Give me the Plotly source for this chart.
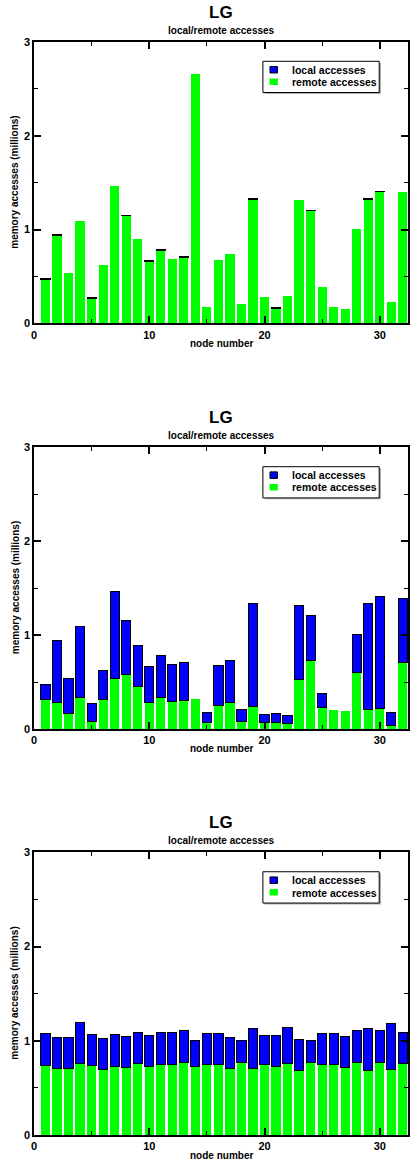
import plotly.graph_objects as go

nodes = list(range(1, 33))

# Panel 1
remote1 = [0.470, 0.933, 0.539, 1.092, 0.265, 0.624, 1.468, 1.148, 0.897, 0.659,
           0.776, 0.688, 0.705, 2.662, 0.177, 0.677, 0.738, 0.206, 1.325, 0.284,
           0.159, 0.294, 1.319, 1.201, 0.387, 0.177, 0.156, 1.011, 1.318, 1.403,
           0.230, 1.397]
local1 = [0.006, 0.010, None, None, 0.008, None, None, 0.008, None, 0.008,
          0.008, None, 0.008, None, None, None, None, None, 0.008, None,
          0.008, None, None, 0.008, None, None, None, None, 0.015, 0.008,
          None, None]

# Panel 2
remote2 = [0.312, 0.284, 0.167, 0.333, 0.082, 0.316, 0.535, 0.578, 0.450, 0.284,
           0.337, 0.294, 0.305, 0.323, 0.067, 0.255, 0.277, 0.078, 0.238, 0.067,
           0.067, 0.060, 0.532, 0.730, 0.230, 0.206, 0.191, 0.606, 0.202, 0.216,
           0.032, 0.709]
local2 = [0.160, 0.656, 0.372, 0.756, 0.188, 0.308, 0.930, 0.574, 0.440, 0.379,
          0.443, 0.390, 0.408, None, 0.110, 0.419, 0.457, 0.124, 1.095, 0.085,
          0.096, 0.085, 0.787, 0.479, 0.149, None, None, 0.401, 1.131, 1.192,
          0.145, 0.681]

# Panel 3
remote3 = [0.738, 0.706, 0.706, 0.762, 0.738, 0.691, 0.727, 0.716, 0.759, 0.727,
           0.745, 0.752, 0.770, 0.727, 0.748, 0.745, 0.702, 0.770, 0.702, 0.752,
           0.727, 0.762, 0.681, 0.773, 0.748, 0.745, 0.720, 0.770, 0.688, 0.770,
           0.699, 0.759]
local3 = [0.336, 0.333, 0.333, 0.429, 0.329, 0.330, 0.337, 0.334, 0.333, 0.333,
          0.340, 0.333, 0.340, 0.280, 0.326, 0.329, 0.330, 0.234, 0.429, 0.301,
          0.333, 0.383, 0.337, 0.234, 0.334, 0.333, 0.326, 0.336, 0.443, 0.336,
          0.485, 0.333]

title_text = "LG"
subtitle_text = "local/remote accesses"
xlabel = "node number"
ylabel = "memory accesses (millions)"
series_names = ["local accesses", "remote accesses"]
x_ticks = [0, 10, 20, 30]
y_ticks = [0, 1, 2, 3]

FONT = "Liberation Sans, Arial, Helvetica, sans-serif"
BLUE = "#0000ff"
GREEN = "#00ff00"

panels = [(remote1, local1), (remote2, local2), (remote3, local3)]
domains = [[0.7425, 1.0], [0.3715, 0.6291], [0.0, 0.2586]]

fig = go.Figure()
layout = {}
annotations = []
shapes = []
for i, ((rem, loc), dom) in enumerate(zip(panels, domains)):
    k = "" if i == 0 else str(i + 1)
    xa = "x" + k
    ya = "y" + k
    fig.add_trace(go.Bar(x=nodes, y=rem, name=series_names[1], xaxis=xa, yaxis=ya,
                         marker=dict(color=GREEN, line=dict(width=0)), width=0.8,
                         showlegend=False, hoverinfo="skip"))
    fig.add_trace(go.Bar(x=nodes, y=loc, name=series_names[0], xaxis=xa, yaxis=ya,
                         marker=dict(color=BLUE, line=dict(color="black", width=1)), width=0.8,
                         showlegend=False, hoverinfo="skip"))
    layout["xaxis" + k] = dict(
        domain=[0, 1], anchor=ya, range=[0, 32.45], tickvals=x_ticks,
        ticktext=[f"<b>{v}</b>" for v in x_ticks],
        ticks="inside", ticklen=7, tickwidth=1.5, tickcolor="black",
        minor=dict(tickvals=[5, 15, 25], ticks="inside", ticklen=4, tickcolor="black", tickwidth=1),
        showline=True, linecolor="black", linewidth=2, mirror="ticks",
        showgrid=False, zeroline=False,
        tickfont=dict(family=FONT, size=11, color="black"),
    )
    layout["yaxis" + k] = dict(
        domain=dom, anchor=xa, range=[0, 3], tickvals=y_ticks,
        ticktext=[f"<b>{v}</b>" for v in y_ticks],
        ticks="inside", ticklen=7, tickwidth=1.5, tickcolor="black",
        minor=dict(tickvals=[0.5, 1.5, 2.5], ticks="inside", ticklen=4, tickcolor="black", tickwidth=1),
        showline=True, linecolor="black", linewidth=1.5, mirror="ticks",
        showgrid=False, zeroline=False,
        tickfont=dict(family=FONT, size=11, color="black"),
    )
    xr = xa + " domain"
    yr = ya + " domain"
    # custom legend box (shadow + box)
    shapes.append(dict(type="rect", xref=xr, yref=yr, x0=0.617, x1=0.928, y0=0.8156, y1=0.9264,
                       line=dict(width=0), fillcolor="#b0b0b0", layer="above"))
    shapes.append(dict(type="rect", xref=xr, yref=yr, x0=0.612, x1=0.923, y0=0.8206, y1=0.9314,
                       line=dict(color="black", width=1), fillcolor="white", layer="above"))
    shapes.append(dict(type="rect", xref=xr, yref=yr, x0=0.631, x1=0.651, y0=0.8899, y1=0.9130,
                       line=dict(color="black", width=1), fillcolor=BLUE, layer="above"))
    shapes.append(dict(type="rect", xref=xr, yref=yr, x0=0.630, x1=0.652, y0=0.8472, y1=0.8703,
                       line=dict(width=0), fillcolor=GREEN, layer="above"))
    annotations += [
        dict(text=f"<b>{series_names[0]}</b>", xref=xr, yref=yr, x=0.6835, y=0.9005,
             xanchor="left", yanchor="middle", showarrow=False,
             font=dict(family=FONT, size=10.5, color="black")),
        dict(text=f"<b>{series_names[1]}</b>", xref=xr, yref=yr, x=0.6835, y=0.8579,
             xanchor="left", yanchor="middle", showarrow=False,
             font=dict(family=FONT, size=10.5, color="black")),
        dict(text=f"<b>{title_text}</b>", xref=xr, yref=yr,
             x=0.5, y=1, yanchor="middle", yshift=30, showarrow=False,
             font=dict(family=FONT, size=17, color="black")),
        dict(text=f"<b>{subtitle_text}</b>", xref=xr, yref=yr,
             x=0.5, y=1, yanchor="middle", yshift=12, showarrow=False,
             font=dict(family=FONT, size=10, color="black")),
        dict(text=f"<b>{xlabel}</b>", xref=xr, yref=yr,
             x=0.5, y=0, yanchor="middle", yshift=-20, showarrow=False,
             font=dict(family=FONT, size=10, color="black")),
        dict(text=f"<b>{ylabel}</b>", xref=xr, yref=yr,
             x=0, y=0.5, xanchor="center", xshift=-19, textangle=-90, showarrow=False,
             font=dict(family=FONT, size=10, color="black")),
    ]

fig.update_layout(
    width=411, height=1163,
    margin=dict(l=34, r=1, t=42, b=28),
    paper_bgcolor="white", plot_bgcolor="white",
    barmode="stack", showlegend=False,
    annotations=annotations, shapes=shapes,
    **layout,
)

fig.write_html("out.html")
